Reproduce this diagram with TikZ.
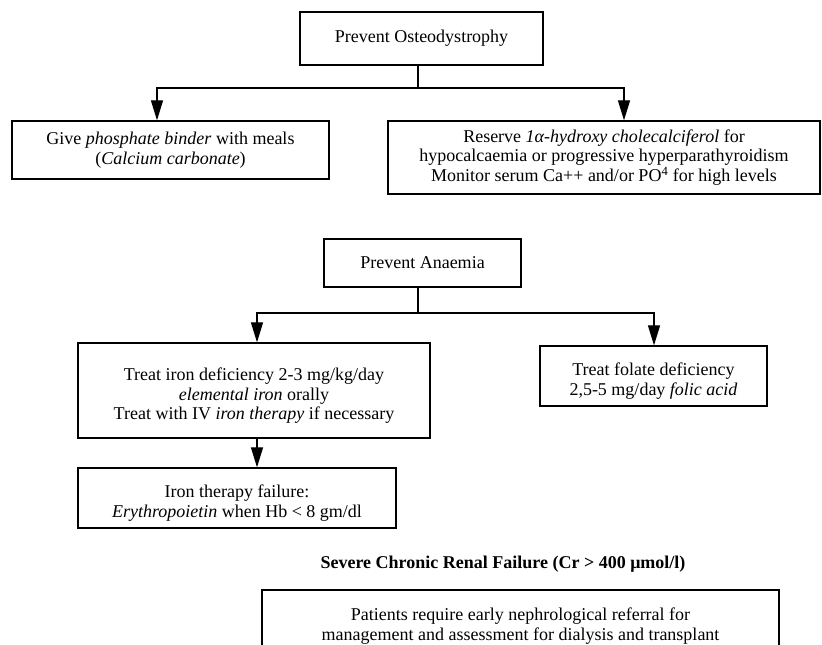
\documentclass[tikz,border=0pt]{standalone}
\usepackage{fontspec}
\setmainfont{Liberation Serif}
\usetikzlibrary{arrows.meta}
% invisible strut that lowers a centred block of lines a little
\newcommand{\lowerlines}{\rule{0pt}{23pt}}
\begin{document}
\begin{tikzpicture}[x=1pt,y=-1pt,
  every node/.style={font=\fontsize{18}{19.5}\selectfont, align=center, inner sep=0pt},
  boxnode/.style={draw, line width=1.3pt, rectangle},
  arrowlink/.style={line width=1.2pt, -{Triangle[length=20pt,width=12pt]}}]
\useasboundingbox (0,0) rectangle (822,645);
\clip (0,0) rectangle (822,645);

% Osteodystrophy branch
\node[boxnode, minimum width=243pt, minimum height=53pt] (osteo) at (421.5,38.5) {Prevent Osteodystrophy};
\node[boxnode, minimum width=317pt, minimum height=58pt] (phos) at (170.5,150)
  {Give \textit{phosphate binder} with meals\\(\textit{Calcium carbonate})};
\node[boxnode, minimum width=432pt, minimum height=73pt] (reserve) at (604,157.5)
  {Reserve \textit{1α-hydroxy cholecalciferol} for\\hypocalcaemia or progressive hyperparathyroidism\\Monitor serum Ca++ and/or PO\textsuperscript{4} for high levels};
\coordinate (ol) at (157,88);
\coordinate (or) at (624,88);
\draw[arrowlink] ([xshift=-3.5pt]osteo.south) |- (ol) -- (ol |- phos.north);
\draw[arrowlink] ([xshift=-3.5pt]osteo.south) |- (or) -- (or |- reserve.north);

% Anaemia branch
\node[boxnode, minimum width=197pt, minimum height=48pt] (anaemia) at (422.5,263) {Prevent Anaemia};
\node[boxnode, minimum width=352pt, minimum height=95pt] (iron) at (254,390.5)
  {\lowerlines Treat iron deficiency 2-3 mg/kg/day\\\textit{elemental iron} orally\\Treat with IV \textit{iron therapy} if necessary};
\node[boxnode, minimum width=227pt, minimum height=60pt] (folate) at (653.5,376)
  {\lowerlines Treat folate deficiency\\2,5-5 mg/day \textit{folic acid}};
\node[boxnode, minimum width=318pt, minimum height=60pt] (failure) at (237,498)
  {\lowerlines Iron therapy failure:\\\textit{Erythropoietin} when Hb < 8 gm/dl};
\coordinate (al) at (257,313);
\coordinate (ar) at (654,313);
\draw[arrowlink] ([xshift=-4.5pt]anaemia.south) |- (al) -- (al |- iron.north);
\draw[arrowlink] ([xshift=-4.5pt]anaemia.south) |- (ar) -- (ar |- folate.north);
\draw[arrowlink] (iron.south -| al) -- (al |- failure.north);

% Severe chronic renal failure
\node[font=\fontsize{18}{19}\selectfont\bfseries] (title) at (503,564)
  {Severe Chronic Renal Failure (Cr > 400 μmol/l)};
\node[boxnode, minimum width=517pt, minimum height=62pt] (referral) at (520.5,621)
  {\lowerlines Patients require early nephrological referral for\\management and assessment for dialysis and transplant};
\end{tikzpicture}
\end{document}
